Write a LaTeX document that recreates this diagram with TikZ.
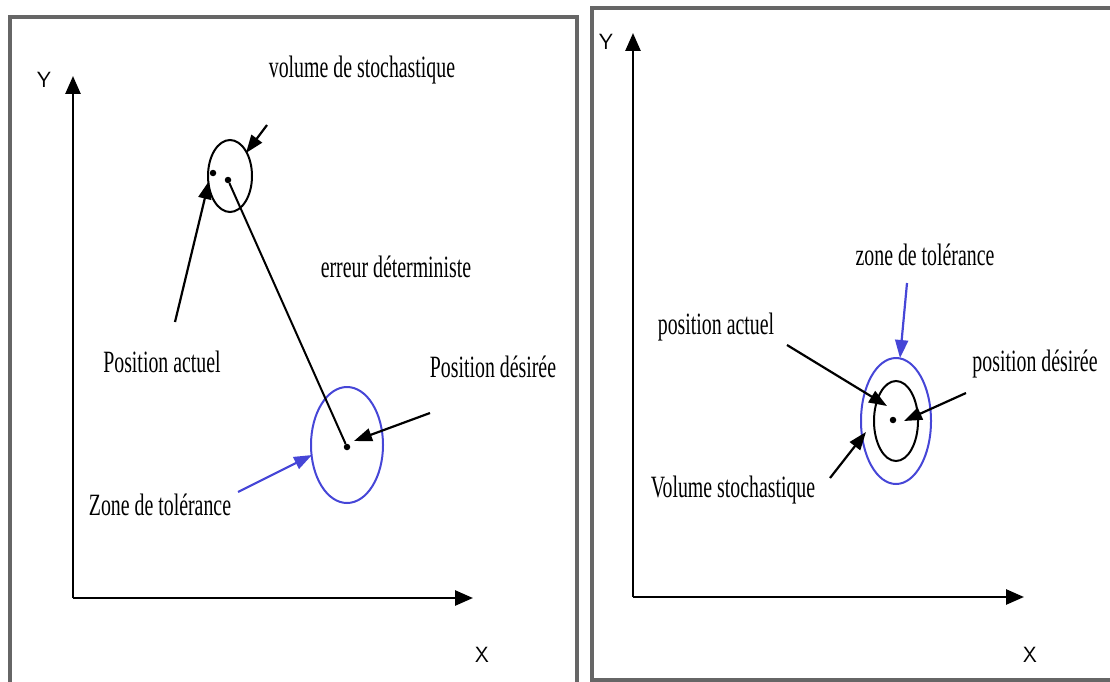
\documentclass[tikz,border=0pt]{standalone}
\usepackage{fontspec}
\setmainfont{Liberation Serif}[FakeStretch=0.64]
\usetikzlibrary{arrows.meta}

\begin{document}
\begin{tikzpicture}[x=1pt,y=-1pt,
    lbl/.style={font=\fontsize{31}{33}\selectfont, inner sep=0pt},
    axlbl/.style={font=\sffamily\fontsize{22}{24}\selectfont, inner sep=0pt},
    fleche/.style={line width=2.2pt, -{Triangle[length=18pt,width=13pt]}},
    axe/.style={line width=2.6pt, -{Triangle[length=18pt,width=15pt]}},
    cadre/.style={draw=black!60, line width=3.5pt},
    pt/.style={circle, fill=black, inner sep=0pt, minimum size=6.5pt}]

    % Couleurs
    \definecolor{tolblue}{RGB}{70,70,215}

    \useasboundingbox (0,0) rectangle (1110,682);

    % ---------- Panneau gauche ----------
    \draw[cadre] (10,17) rectangle (577,700);

    % Axes
    \coordinate (O1) at (73,598);
    \coordinate (Y1) at (73,76);
    \coordinate (X1) at (473,598);
    \draw[axe] (O1) -- (Y1);
    \draw[axe] (O1) -- (X1);
    \node[axlbl] (ylab1) at (44,80) {Y};
    \node[axlbl] (xlab1) at (482,655) {X};

    % Volume stochastique
    \coordinate (vs1) at (230,176);
    \draw[line width=2pt] (vs1) ellipse [x radius=22, y radius=36];
    \node[pt] (pa1) at (213,173) {};
    \node[pt] (pb1) at (228,180) {};

    % Zone de tolerance
    \coordinate (zt1) at (347,445);
    \draw[tolblue, line width=2pt] (zt1) ellipse [x radius=36, y radius=58];
    \node[pt] (pd1) at (347,447) {};

    % Erreur deterministe
    \draw[line width=2pt] (pb1) -- (pd1);

    % Textes
    \node[lbl] (tvs1) at (362,70) {volume de stochastique};
    \node[lbl] (tpa1) at (162,362) {Position actuel};
    \node[lbl] (ted1) at (396,267) {erreur déterministe};
    \node[lbl] (tpd1) at (493,367) {Position désirée};
    \node[lbl] (tzt1) at (160,505) {Zone de tolérance};

    % Fleches
    \coordinate (avs1) at (267,125);
    \coordinate (hvs1) at (246,153);
    \draw[fleche] (avs1) -- (hvs1);
    \coordinate (apa1) at (175,322);
    \coordinate (hpa1) at (209,181);
    \draw[fleche] (apa1) -- (hpa1);
    \coordinate (apd1) at (430,413);
    \coordinate (hpd1) at (354,441);
    \draw[fleche] (apd1) -- (hpd1);
    \coordinate (azt1) at (238,492);
    \coordinate (hzt1) at (312,455);
    \draw[fleche, tolblue] (azt1) -- (hzt1);

    % ---------- Panneau droit ----------
    \draw[cadre] (592,8) rectangle (1130,680);

    % Axes
    \coordinate (O2) at (633,597);
    \coordinate (Y2) at (633,33);
    \coordinate (X2) at (1024,597);
    \draw[axe] (O2) -- (Y2);
    \draw[axe] (O2) -- (X2);
    \node[axlbl] (ylab2) at (606,42) {Y};
    \node[axlbl] (xlab2) at (1030,655) {X};

    % Cercles
    \coordinate (zt2) at (896,421);
    \draw[tolblue, line width=2pt] (zt2) ellipse [x radius=35, y radius=63];
    \draw[line width=2pt] (zt2) ellipse [x radius=22, y radius=40];
    \node[pt] (pd2) at (893,420) {};

    % Textes
    \node[lbl] (tzt2) at (925,255) {zone de tolérance};
    \node[lbl] (tpa2) at (716,327) {position actuel};
    \node[lbl] (tpd2) at (1035,364) {position désirée};
    \node[lbl] (tvs2) at (733,490) {Volume stochastique};

    % Fleches
    \coordinate (azt2) at (907,283);
    \coordinate (hzt2) at (900,358);
    \draw[fleche, tolblue] (azt2) -- (hzt2);
    \coordinate (apa2) at (787,345);
    \coordinate (hpa2) at (887,406);
    \draw[fleche] (apa2) -- (hpa2);
    \coordinate (apd2) at (966,393);
    \coordinate (hpd2) at (904,421);
    \draw[fleche] (apd2) -- (hpd2);
    \coordinate (avs2) at (830,478);
    \coordinate (hvs2) at (866,432);
    \draw[fleche] (avs2) -- (hvs2);

\end{tikzpicture}
\end{document}
